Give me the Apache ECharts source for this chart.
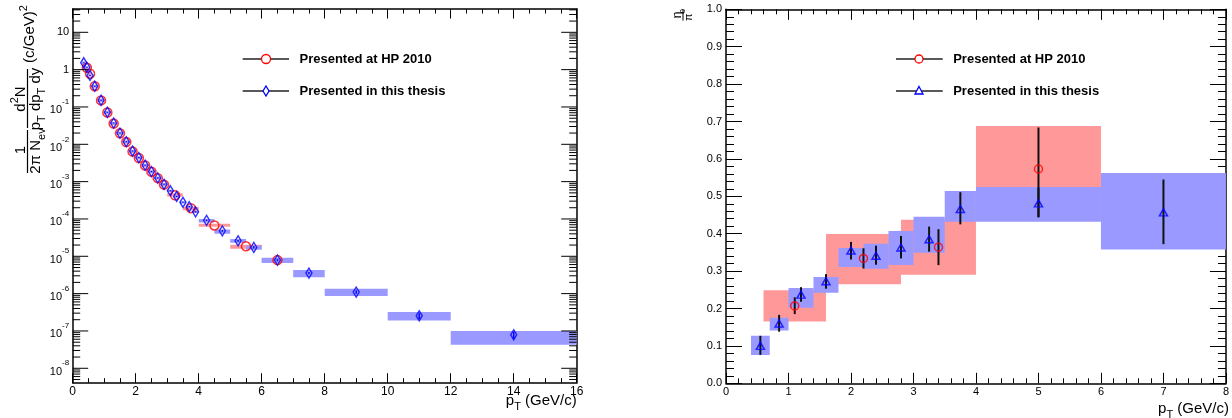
<!DOCTYPE html>
<html>
<head>
<meta charset="utf-8">
<script src="https://cdn.jsdelivr.net/npm/echarts@6/dist/echarts.min.js"></script>
<style>
  html, body { margin: 0; padding: 0; background: #fff; }
  #chart { width: 1232px; height: 418px; }
</style>
</head>
<body>
<div id="chart"></div>
<script>
// ---------- Left panel: pi0 invariant yield vs pT ----------
// "Presented in this thesis" (blue diamonds)
const thesisPt     = [0.35, 0.45, 0.55, 0.7, 0.9, 1.1, 1.3, 1.5, 1.7, 1.9, 2.1, 2.3, 2.5, 2.7, 2.9, 3.1, 3.3, 3.5, 3.7, 3.9, 4.25, 4.75, 5.25, 5.75, 6.5, 7.5, 9, 11, 14];
const thesisYield  = [1.53, 1.15, 0.70, 0.36, 0.151, 0.072, 0.037, 0.020, 0.0117, 0.0066, 0.0044, 0.00275, 0.00186, 0.00126, 0.00085, 0.00057, 0.00040, 0.00028, 0.000214, 0.000155, 9.2e-5, 4.8e-5, 2.6e-5, 1.73e-5, 7.9e-6, 3.55e-6, 1.1e-6, 2.55e-7, 7.9e-8];
const thesisBinLo  = [0.3, 0.4, 0.5, 0.6, 0.8, 1.0, 1.2, 1.4, 1.6, 1.8, 2.0, 2.2, 2.4, 2.6, 2.8, 3.0, 3.2, 3.4, 3.6, 3.8, 4.0, 4.5, 5.0, 5.5, 6, 7, 8, 10, 12];
const thesisBinHi  = [0.4, 0.5, 0.6, 0.8, 1.0, 1.2, 1.4, 1.6, 1.8, 2.0, 2.2, 2.4, 2.6, 2.8, 3.0, 3.2, 3.4, 3.6, 3.8, 4.0, 4.5, 5.0, 5.5, 6.0, 7, 8, 10, 12, 16];
const thesisSysLo  = [1.42, 1.07, 0.65, 0.335, 0.140, 0.067, 0.0344, 0.0186, 0.0109, 0.0061, 0.0041, 0.00256, 0.00173, 0.00117, 0.00079, 0.00053, 0.00037, 0.00026, 0.000199, 0.000144, 8.0e-5, 4.0e-5, 2.3e-5, 1.5e-5, 6.6e-6, 2.75e-6, 8.7e-7, 1.9e-7, 4.3e-8];
const thesisSysHi  = [1.64, 1.23, 0.75, 0.385, 0.162, 0.077, 0.0396, 0.0214, 0.0125, 0.0071, 0.0047, 0.00294, 0.00199, 0.00135, 0.00091, 0.00061, 0.00043, 0.00030, 0.000229, 0.000166, 1.0e-4, 5.2e-5, 2.9e-5, 1.95e-5, 9.1e-6, 4.3e-6, 1.35e-6, 3.2e-7, 1.0e-7];
const thesisStatErr = [0.03, 0.025, 0.02, 0.01, 0.004, 0.002, 0.001, 0.0006, 0.0004, 0.0002, 0.00015, 0.0001, 0.00007, 0.00005, 0.00003, 0.00002, 0.000015, 0.00001, 0.000008, 0.000006, 4e-6, 2.5e-6, 1.5e-6, 1.2e-6, 5e-7, 2.5e-7, 1.1e-7, 4.5e-8, 1.7e-8];

// "Presented at HP 2010" (red circles)
const hpPt     = [0.45, 0.55, 0.7, 0.9, 1.1, 1.3, 1.5, 1.7, 1.9, 2.1, 2.3, 2.5, 2.7, 2.9, 3.25, 3.75, 4.5, 5.5, 6.5];
const hpYield  = [1.12, 0.78, 0.36, 0.150, 0.071, 0.036, 0.0197, 0.0115, 0.0064, 0.0043, 0.0027, 0.00183, 0.00124, 0.00083, 0.00043, 0.000195, 6.7e-5, 1.85e-5, 7.9e-6];
const hpBinLo  = [0.4, 0.5, 0.6, 0.8, 1.0, 1.2, 1.4, 1.6, 1.8, 2.0, 2.2, 2.4, 2.6, 2.8, 3.0, 3.5, 4.0, 5.0, 6.0];
const hpBinHi  = [0.5, 0.6, 0.8, 1.0, 1.2, 1.4, 1.6, 1.8, 2.0, 2.2, 2.4, 2.6, 2.8, 3.0, 3.5, 4.0, 5.0, 6.0, 7.0];
const hpSysLo  = [1.00, 0.70, 0.325, 0.135, 0.064, 0.0324, 0.0177, 0.0103, 0.0058, 0.0039, 0.00243, 0.00165, 0.00112, 0.00075, 0.00040, 0.00017, 6.2e-5, 1.6e-5, 7.0e-6];
const hpSysHi  = [1.24, 0.86, 0.395, 0.165, 0.078, 0.0396, 0.0217, 0.0127, 0.0070, 0.0047, 0.00297, 0.00201, 0.00136, 0.00091, 0.00049, 0.00021, 7.4e-5, 2.05e-5, 8.8e-6];

// Log axis range and decade tick exponents
const yieldAxisMin = 4.11e-9;
const yieldAxisMax = 42.1;
const yieldDecades = [-8, -7, -6, -5, -4, -3, -2, -1, 0, 1];
const yieldMinorSteps = [2, 3, 4, 5, 6, 7, 8, 9];

// ---------- Right panel: eta / pi0 ratio vs pT ----------
const ratioThesisPt     = [0.55, 0.85, 1.2, 1.6, 2.0, 2.4, 2.8, 3.25, 3.75, 5.0, 7.0];
const ratioThesisVal    = [0.100, 0.160, 0.237, 0.273, 0.355, 0.341, 0.363, 0.385, 0.466, 0.481, 0.457];
const ratioThesisBinLo  = [0.4, 0.7, 1.0, 1.4, 1.8, 2.2, 2.6, 3.0, 3.5, 4.0, 6.0];
const ratioThesisBinHi  = [0.7, 1.0, 1.4, 1.8, 2.2, 2.6, 3.0, 3.5, 4.0, 6.0, 8.0];
const ratioThesisSysLo  = [0.076, 0.141, 0.202, 0.242, 0.311, 0.306, 0.316, 0.349, 0.432, 0.432, 0.358];
const ratioThesisSysHi  = [0.127, 0.175, 0.255, 0.284, 0.362, 0.373, 0.407, 0.445, 0.514, 0.525, 0.562];
const ratioThesisStatLo = [0.076, 0.138, 0.218, 0.253, 0.331, 0.317, 0.334, 0.352, 0.425, 0.444, 0.372];
const ratioThesisStatHi = [0.127, 0.183, 0.257, 0.292, 0.378, 0.368, 0.394, 0.419, 0.511, 0.523, 0.545];

const ratioHpPt     = [1.1, 2.2, 3.4, 5.0];
const ratioHpVal    = [0.207, 0.334, 0.364, 0.573];
const ratioHpBinLo  = [0.6, 1.6, 2.8, 4.0];
const ratioHpBinHi  = [1.6, 2.8, 4.0, 6.0];
const ratioHpSysLo  = [0.165, 0.265, 0.290, 0.525];
const ratioHpSysHi  = [0.249, 0.399, 0.437, 0.688];
const ratioHpStatLo = [0.185, 0.307, 0.316, 0.444];
const ratioHpStatHi = [0.230, 0.361, 0.412, 0.684];

const legendLabels = ['Presented at HP 2010', 'Presented in this thesis'];

// ---------- styling ----------
const FONT = '"Liberation Sans", Arial, Helvetica, sans-serif';
const RED = '#ff0000', BLUE = '#0000ff';
const RED_BOX = '#ff9999', BLUE_BOX = '#9999ff';

// ---------- helpers building series data from the arrays ----------
function boxRows(x, y, xlo, xhi, ylo, yhi) {
  return x.map((v, i) => [v, y[i], xlo[i], xhi[i], ylo[i], yhi[i]]);
}
function barRows(x, y, lo, hi) {
  return x.map((v, i) => [v, y[i], lo[i], hi[i]]);
}
function renderBox(fill) {
  return function (params, api) {
    const p1 = api.coord([api.value(2), api.value(5)]);
    const p2 = api.coord([api.value(3), api.value(4)]);
    return {
      type: 'rect',
      shape: { x: p1[0], y: p1[1], width: p2[0] - p1[0], height: p2[1] - p1[1] },
      style: { fill: fill }
    };
  };
}
function renderBar(color, width) {
  return function (params, api) {
    const x = api.value(0);
    const a = api.coord([x, api.value(2)]);
    const b = api.coord([x, api.value(3)]);
    return {
      type: 'line',
      shape: { x1: a[0], y1: a[1], x2: b[0], y2: b[1] },
      style: { stroke: color, lineWidth: width }
    };
  };
}

// log-axis ticks (major decades + minor 2..9) on both vertical edges, with labels
const logTickRows = [];
yieldDecades.forEach(e => logTickRows.push([0, Math.pow(10, e), 1, e]));
for (let e = yieldDecades[0] - 1; e <= yieldDecades[yieldDecades.length - 1]; e++) {
  yieldMinorSteps.forEach(m => {
    const v = m * Math.pow(10, e);
    if (v >= yieldAxisMin && v <= yieldAxisMax) logTickRows.push([0, v, 0, e]);
  });
}
function decadeLabel(e) {
  if (e === 0) return '1';
  if (e === 1) return '10';
  return '{b|10}{s|' + e + '}';
}
const decadeRich = {
  b: { fontFamily: FONT, fontSize: 11, lineHeight: 18, verticalAlign: 'bottom', fill: '#000' },
  s: { fontFamily: FONT, fontSize: 8, lineHeight: 10, verticalAlign: 'top', fill: '#000' }
};
function renderLogTick(params, api) {
  const cs = params.coordSys;
  const major = api.value(2) === 1;
  const y = api.coord([0, api.value(1)])[1];
  const len = major ? 15.5 : 7.5;
  const children = [
    { type: 'line', shape: { x1: cs.x, y1: y, x2: cs.x + len, y2: y }, style: { stroke: '#000', lineWidth: 1 } },
    { type: 'line', shape: { x1: cs.x + cs.width, y1: y, x2: cs.x + cs.width - len, y2: y }, style: { stroke: '#000', lineWidth: 1 } }
  ];
  if (major) {
    children.push({
      type: 'text',
      x: cs.x - 3.5, y: y,
      style: {
        text: decadeLabel(api.value(3)),
        align: 'right', verticalAlign: 'middle',
        fontFamily: FONT, fontSize: 11, fill: '#000',
        rich: decadeRich
      }
    });
  }
  return { type: 'group', children: children };
}

// ---------- axes ----------
function linAxis(grid, pos, min, max, step, minorSplit, tickLen, minorLen, labels, labelSize, labelMargin, fmt) {
  return {
    gridIndex: grid, type: 'value', position: pos, min: min, max: max, interval: step,
    axisLine: { show: true, onZero: false, lineStyle: { color: '#000', width: 1.5 } },
    axisTick: { show: true, inside: true, length: tickLen, lineStyle: { color: '#000', width: 1 } },
    minorTick: { show: true, splitNumber: minorSplit, length: minorLen, lineStyle: { color: '#000', width: 1 } },
    splitLine: { show: false },
    minorSplitLine: { show: false },
    axisLabel: { show: labels, fontFamily: FONT, fontSize: labelSize, color: '#000', margin: labelMargin, formatter: fmt }
  };
}
function logAxis(pos) {
  return {
    gridIndex: 0, type: 'log', logBase: 10, position: pos, min: yieldAxisMin, max: yieldAxisMax,
    axisLine: { show: true, onZero: false, lineStyle: { color: '#000', width: 1.5 } },
    axisTick: { show: false }, minorTick: { show: false },
    axisLabel: { show: false }, splitLine: { show: false }
  };
}

// ---------- titles and legends ----------
const txt = (x, y, text, size, rich, align) => ({
  type: 'text', x: x, y: y, silent: true,
  style: { text: text, fontFamily: FONT, fontSize: size, fill: '#000', align: align || 'center', verticalAlign: 'middle', rich: rich }
});
const subSup = (size) => ({
  n: { fontFamily: FONT, fontSize: size, lineHeight: size + 8, verticalAlign: 'middle', fill: '#000' },
  sub: { fontFamily: FONT, fontSize: Math.round(size * 0.7), lineHeight: Math.round(size * 0.7), verticalAlign: 'bottom', fill: '#000' },
  sup: { fontFamily: FONT, fontSize: Math.round(size * 0.7), lineHeight: Math.round(size * 0.7), verticalAlign: 'top', fill: '#000' }
});

const yieldTitle = {
  type: 'group', x: 0, y: 180, rotation: Math.PI / 2, silent: true,
  children: [
    txt(30, 21, '1', 15),
    { type: 'line', shape: { x1: 7, y1: 27.5, x2: 50, y2: 27.5 }, style: { stroke: '#000', lineWidth: 1.2 } },
    txt(29, 36, '{n|2π N}{sub|ev}', 15, subSup(15)),
    txt(81, 21, '{n|d}{sup|2}{n|N}', 15, subSup(15)),
    { type: 'line', shape: { x1: 52, y1: 27.5, x2: 111, y2: 27.5 }, style: { stroke: '#000', lineWidth: 1.2 } },
    txt(81, 36, '{n|p}{sub|T}{n| dp}{sub|T}{n| dy}', 15, subSup(15)),
    txt(146, 30, '{n|(c/GeV)}{sup|2}', 15, subSup(15))
  ]
};
const ratioTitle = {
  type: 'group', x: 683, y: 15, rotation: Math.PI / 2, silent: true,
  children: [
    txt(0, -5, 'η', 12),
    { type: 'line', shape: { x1: -5.5, y1: 0, x2: 5.5, y2: 0 }, style: { stroke: '#000', lineWidth: 1 } },
    txt(0, 5.5, '{n|π}{sup|0}', 11, subSup(11))
  ]
};
const ptTitle = (xRight, y, size) => txt(xRight, y, '{n|p}{sub|T}{n| (GeV/c)}', size, subSup(size), 'right');

function legendEntry(x0, x1, y, marker, label) {
  return [
    { type: 'line', silent: true, shape: { x1: x0, y1: y, x2: x1, y2: y }, style: { stroke: '#222', lineWidth: 1.5 } },
    marker,
    { type: 'text', x: x1 + 10.5, y: y, silent: true,
      style: { text: label, fontFamily: FONT, fontSize: 13, fontWeight: 'bold', fill: '#000', align: 'left', verticalAlign: 'middle' } }
  ];
}
const circleMark = (cx, cy, r) => ({ type: 'circle', silent: true, shape: { cx: cx, cy: cy, r: r }, style: { fill: '#fff', stroke: RED, lineWidth: 1.3 } });
const diamondMark = (cx, cy) => ({ type: 'polygon', silent: true, shape: { points: [[cx, cy - 5], [cx + 3, cy], [cx, cy + 5], [cx - 3, cy]] }, style: { fill: '#fff', stroke: BLUE, lineWidth: 1.3 } });
const triangleMark = (cx, cy) => ({ type: 'polygon', silent: true, shape: { points: [[cx, cy - 4.5], [cx + 4, cy + 3], [cx - 4, cy + 3]] }, style: { fill: '#fff', stroke: BLUE, lineWidth: 1.3 } });

const graphics = [].concat(
  [yieldTitle, ratioTitle, ptTitle(576.7, 401, 15), ptTitle(1229, 409, 15)],
  legendEntry(242.7, 289, 59, circleMark(266, 59, 4.5), legendLabels[0]),
  legendEntry(242.7, 289, 91, diamondMark(266, 91), legendLabels[1]),
  legendEntry(896, 942.7, 59, circleMark(919, 59, 4), legendLabels[0]),
  legendEntry(896, 942.7, 91, triangleMark(919, 91), legendLabels[1])
);

// ---------- chart ----------
const chart = echarts.init(document.getElementById('chart'), null, { renderer: 'canvas' });
chart.setOption({
  animation: false,
  backgroundColor: '#fff',
  grid: [
    { left: 72.7, top: 9, width: 504, height: 373.7 },
    { left: 726, top: 9.3, width: 503, height: 374 }
  ],
  xAxis: [
    linAxis(0, 'bottom', 0, 16, 2, 4, 9.5, 4.5, true, 12, 3),
    linAxis(0, 'top', 0, 16, 2, 4, 9.5, 4.5, false, 12, 3),
    linAxis(1, 'bottom', 0, 8, 1, 5, 10.5, 5, true, 11, 3),
    linAxis(1, 'top', 0, 8, 1, 5, 10.5, 5, false, 11, 3)
  ],
  yAxis: [
    logAxis('left'),
    logAxis('right'),
    linAxis(1, 'left', 0, 1, 0.1, 5, 16, 8, true, 11, 4, v => v.toFixed(1)),
    linAxis(1, 'right', 0, 1, 0.1, 5, 16, 8, false, 11, 4)
  ],
  graphic: graphics,
  series: [
    // left panel
    { type: 'custom', xAxisIndex: 0, yAxisIndex: 0, z: 1, silent: true, clip: true,
      data: boxRows(hpPt, hpYield, hpBinLo, hpBinHi, hpSysLo, hpSysHi), renderItem: renderBox(RED_BOX) },
    { type: 'custom', xAxisIndex: 0, yAxisIndex: 0, z: 2, silent: true, clip: true,
      data: boxRows(thesisPt, thesisYield, thesisBinLo, thesisBinHi, thesisSysLo, thesisSysHi), renderItem: renderBox(BLUE_BOX) },
    { type: 'custom', xAxisIndex: 0, yAxisIndex: 0, z: 3, silent: true,
      data: barRows(thesisPt, thesisYield, thesisYield.map((v, i) => v - thesisStatErr[i]), thesisYield.map((v, i) => v + thesisStatErr[i])),
      renderItem: renderBar(BLUE, 1.5) },
    { type: 'scatter', xAxisIndex: 0, yAxisIndex: 0, z: 4, silent: true, symbol: 'circle', symbolSize: 9,
      itemStyle: { color: 'rgba(0,0,0,0)', borderColor: RED, borderWidth: 1.5 },
      data: hpPt.map((v, i) => [v, hpYield[i]]) },
    { type: 'scatter', xAxisIndex: 0, yAxisIndex: 0, z: 5, silent: true, symbol: 'diamond', symbolSize: [6, 10],
      itemStyle: { color: 'rgba(0,0,0,0)', borderColor: BLUE, borderWidth: 1.5 },
      data: thesisPt.map((v, i) => [v, thesisYield[i]]) },
    { type: 'custom', xAxisIndex: 0, yAxisIndex: 0, z: 6, silent: true, clip: false,
      data: logTickRows, renderItem: renderLogTick },
    // right panel
    { type: 'custom', xAxisIndex: 2, yAxisIndex: 2, z: 1, silent: true, clip: true,
      data: boxRows(ratioHpPt, ratioHpVal, ratioHpBinLo, ratioHpBinHi, ratioHpSysLo, ratioHpSysHi), renderItem: renderBox(RED_BOX) },
    { type: 'custom', xAxisIndex: 2, yAxisIndex: 2, z: 2, silent: true, clip: true,
      data: boxRows(ratioThesisPt, ratioThesisVal, ratioThesisBinLo, ratioThesisBinHi, ratioThesisSysLo, ratioThesisSysHi), renderItem: renderBox(BLUE_BOX) },
    { type: 'custom', xAxisIndex: 2, yAxisIndex: 2, z: 3, silent: true,
      data: barRows(ratioHpPt, ratioHpVal, ratioHpStatLo, ratioHpStatHi), renderItem: renderBar('#111', 2) },
    { type: 'custom', xAxisIndex: 2, yAxisIndex: 2, z: 3, silent: true,
      data: barRows(ratioThesisPt, ratioThesisVal, ratioThesisStatLo, ratioThesisStatHi), renderItem: renderBar('#111', 2) },
    { type: 'scatter', xAxisIndex: 2, yAxisIndex: 2, z: 4, silent: true, symbol: 'circle', symbolSize: 8,
      itemStyle: { color: 'rgba(0,0,0,0)', borderColor: RED, borderWidth: 1.5 },
      data: ratioHpPt.map((v, i) => [v, ratioHpVal[i]]) },
    { type: 'scatter', xAxisIndex: 2, yAxisIndex: 2, z: 5, silent: true, symbol: 'triangle', symbolSize: [8, 7],
      itemStyle: { color: 'rgba(0,0,0,0)', borderColor: BLUE, borderWidth: 1.5 },
      data: ratioThesisPt.map((v, i) => [v, ratioThesisVal[i]]) }
  ]
});
</script>
</body>
</html>
